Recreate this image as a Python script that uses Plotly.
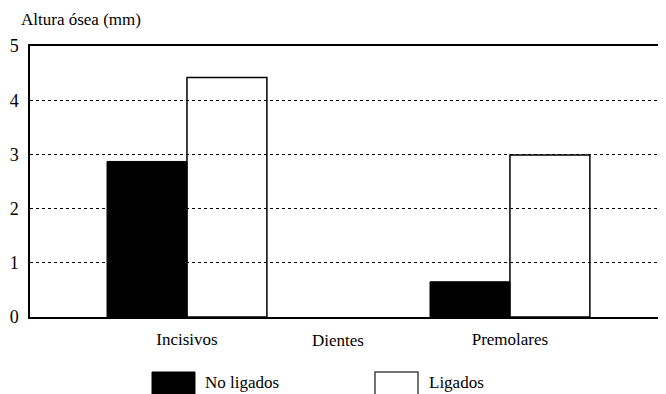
import plotly.graph_objects as go

categories = ["Incisivos", "Premolares"]
no_ligados = [2.87, 0.65]
ligados = [4.42, 2.99]
y_ticks = [0, 1, 2, 3, 4, 5]
x_title = "Dientes"
y_title = "Altura ósea (mm)"
series_names = ["No ligados", "Ligados"]

FONT = "Liberation Serif"

fig = go.Figure()
fig.add_trace(go.Bar(x=categories, y=no_ligados, name=series_names[0],
                     marker=dict(color="black", line=dict(color="black", width=1))))
fig.add_trace(go.Bar(x=categories, y=ligados, name=series_names[1],
                     marker=dict(color="rgba(0,0,0,0)", line=dict(color="black", width=1.5))))

# page has an 8px body margin; figure sized to fit the window so the plot area sits at x 30-664, y 46-317
fig.update_layout(
    width=658, height=386,
    margin=dict(l=22, r=2, t=38, b=77, autoexpand=False),
    paper_bgcolor="white", plot_bgcolor="white",
    barmode="group", bargap=0.505, bargroupgap=0,
    showlegend=False,
    font=dict(family=FONT, size=17, color="black"),
)
fig.update_xaxes(showline=True, linecolor="black", linewidth=1.5, mirror=True, automargin=False,
                 range=[-0.486, 1.477],
                 ticks="", showgrid=False, tickfont=dict(size=17), ticklabelstandoff=6)
fig.update_yaxes(range=[0, 5], tickvals=y_ticks, showline=True, linecolor="black", linewidth=1.5,
                 automargin=False,
                 ticks="", showgrid=True, gridcolor="black", gridwidth=1, griddash="dot",
                 zeroline=False, tickfont=dict(size=18), ticklabelstandoff=6)

def px_x(p):
    return (p - 30) / 634
def px_y(p):
    return (317 - p) / 271

# axis titles
fig.add_annotation(text=x_title, xref="paper", yref="paper", x=px_x(338), y=px_y(340),
                   xanchor="center", yanchor="middle", showarrow=False, font=dict(size=17))
fig.add_annotation(text=y_title, xref="paper", yref="paper", x=px_x(19), y=px_y(20),
                   xanchor="left", yanchor="middle", showarrow=False, font=dict(size=17))

# legend drawn manually
fig.add_shape(type="rect", xref="paper", yref="paper", x0=px_x(152), x1=px_x(195),
              y0=px_y(395), y1=px_y(372), fillcolor="black", line=dict(color="black", width=1))
fig.add_shape(type="rect", xref="paper", yref="paper", x0=px_x(375), x1=px_x(418),
              y0=px_y(395), y1=px_y(372), fillcolor="white", line=dict(color="#444", width=1.5))
fig.add_annotation(text=series_names[0], xref="paper", yref="paper", x=px_x(203), y=px_y(382),
                   xanchor="left", yanchor="middle", showarrow=False, font=dict(size=17))
fig.add_annotation(text=series_names[1], xref="paper", yref="paper", x=px_x(427), y=px_y(382),
                   xanchor="left", yanchor="middle", showarrow=False, font=dict(size=17))

fig.write_html("out.html")
